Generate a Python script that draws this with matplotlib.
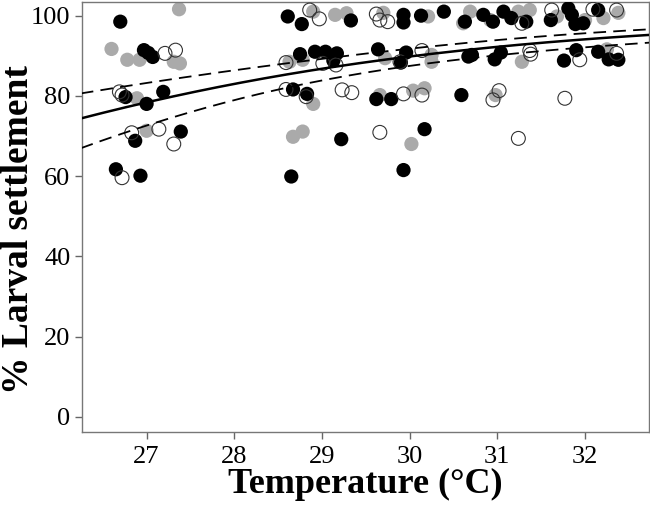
import matplotlib.pyplot as plt
import numpy as np

plt.rcParams['font.family'] = ['Liberation Serif', 'DejaVu Serif']

# temperature (deg C) and % settlement, three treatments
black_t = [26.70, 26.97, 27.02, 27.07, 26.76, 27.00, 27.19, 26.87, 27.39, 26.65, 26.93,
           28.61, 28.77, 29.33, 28.75, 28.92, 29.04, 29.17, 29.13, 28.67, 28.83, 29.22, 28.65,
           29.93, 29.93, 30.13, 30.39, 30.63, 29.64, 29.96, 29.90, 30.67, 29.62, 29.79, 30.59, 30.17, 29.93,
           30.84, 30.95, 31.07, 31.16, 31.33, 31.61, 30.71, 30.97, 31.04,
           31.81, 31.85, 31.89, 31.98, 32.15, 31.90, 31.76, 32.15, 32.27, 32.38]
black_v = [98.5, 91.4, 90.7, 89.7, 79.7, 78.0, 81.0, 68.8, 71.1, 61.7, 60.1,
           99.8, 97.9, 98.8, 90.4, 91.0, 91.0, 90.6, 88.8, 81.6, 80.5, 69.2, 59.9,
           100.2, 98.3, 100.0, 101.0, 98.5, 91.6, 90.8, 88.3, 89.8, 79.2, 79.2, 80.2, 71.7, 61.5,
           100.2, 98.5, 101.0, 99.4, 98.5, 98.9, 90.2, 89.1, 90.8,
           101.8, 100.2, 97.9, 98.1, 101.4, 91.4, 88.8, 91.0, 89.1, 89.0]

gray_t = [27.37, 26.60, 26.78, 26.92, 27.31, 27.38, 26.89, 27.00,
          28.90, 29.15, 29.28, 28.63, 28.78, 28.90, 28.67, 28.78,
          29.70, 30.21, 30.61, 29.72, 30.25, 30.25, 29.66, 30.04, 30.17, 30.02,
          30.69, 31.24, 31.37, 30.92, 31.28, 30.98,
          31.68, 32.00, 32.21, 32.38, 32.25]
gray_v = [101.6, 91.7, 89.0, 89.0, 88.5, 88.1, 79.4, 71.3,
          101.0, 100.2, 100.6, 88.5, 89.0, 78.0, 69.8, 71.1,
          100.7, 99.8, 98.1, 89.4, 88.5, 90.2, 80.2, 81.3, 81.9, 68.0,
          101.0, 101.0, 101.4, 98.9, 88.5, 80.2,
          99.8, 98.9, 99.4, 100.7, 91.6]

open_t = [27.21, 27.33, 26.69, 26.72, 26.83, 27.14, 27.31, 26.72,
          28.86, 28.97, 28.59, 29.01, 29.16, 28.59, 28.82, 29.23, 29.34,
          29.62, 29.75, 29.66, 30.14, 29.89, 29.93, 30.14, 29.66,
          31.28, 31.62, 31.37, 31.38, 31.02, 30.95, 31.24,
          32.09, 32.36, 31.94, 32.36, 31.77]
open_v = [90.6, 91.4, 81.0, 80.2, 70.8, 71.7, 68.0, 59.6,
          101.4, 99.2, 88.3, 88.1, 87.7, 81.6, 79.8, 81.5, 80.8,
          100.4, 98.5, 98.9, 91.3, 88.5, 80.5, 80.2, 70.9,
          98.1, 101.4, 91.3, 90.4, 81.3, 79.0, 69.4,
          101.6, 101.4, 89.0, 90.6, 79.4]

# logistic fit (logit scale) and half-width of the 95% band
fit_a, fit_b = -6.715, 0.2964
band_h0, band_k, band_tc = 0.23, 0.085, 29.5

fig = plt.figure(figsize=(6.5, 5.05), dpi=100)
ax = fig.add_axes([0.1257, 0.1446, 0.8728, 0.8514])

t = np.linspace(26.25, 32.75, 200)
eta = fit_a + fit_b * t
half = np.sqrt(band_h0 ** 2 + band_k ** 2 * (t - band_tc) ** 2)
inv = lambda x: 100 / (1 + np.exp(-x))

ax.scatter(gray_t, gray_v, s=105, color='#aaaaaa', edgecolors='none', zorder=2)
ax.scatter(black_t, black_v, s=105, color='black', edgecolors='none', zorder=3)
ax.scatter(open_t, open_v, s=100, facecolors='none', edgecolors='#333333',
           linewidths=0.8, zorder=4)

ax.plot(t, inv(eta), color='black', lw=1.8, zorder=5)
ax.plot(t, inv(eta + half), color='black', lw=1.3, ls=(0, (7, 4)), zorder=5)
ax.plot(t, inv(eta - half), color='black', lw=1.3, ls=(0, (7, 4)), zorder=5)

ax.set_xlim(26.26, 32.73)
ax.set_ylim(-3.8, 103.4)
ax.set_xticks([27, 28, 29, 30, 31, 32])
ax.set_yticks([0, 20, 40, 60, 80, 100])
ax.tick_params(labelsize=19, color='#666666', length=5, width=1, pad=3)
ax.tick_params(axis='x', pad=5)

for sp in ax.spines.values():
    sp.set_color('#777777')
    sp.set_linewidth(1)

ax.set_xlabel('Temperature (°C)', fontsize=26, fontweight='bold', labelpad=0)
ax.set_ylabel('% Larval settlement', fontsize=27, fontweight='bold')
ax.yaxis.set_label_coords(-0.08, 0.47)

fig.savefig('out.png', dpi=100)
